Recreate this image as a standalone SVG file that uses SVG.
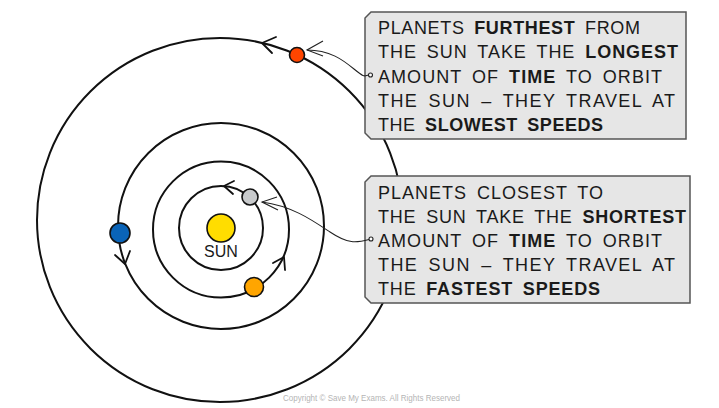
<svg xmlns="http://www.w3.org/2000/svg" width="719" height="408" viewBox="0 0 719 408">
<style>
.orbit{fill:none;stroke:#111;stroke-width:2}
.chev{fill:none;stroke:#111;stroke-width:1.8;stroke-linecap:round;stroke-linejoin:round}
.planet{stroke:#111;stroke-width:1.6}
.box{fill:#e6e6e6;stroke:#555;stroke-width:1.5}
.t{font-family:"Liberation Sans",Arial,sans-serif;font-size:18px;fill:#1a1a1a;word-spacing:4px}
.b{font-weight:bold}
.ptr{fill:none;stroke:#222;stroke-width:1.1}
.dot{fill:#fff;stroke:#222;stroke-width:1.1}
</style>
<rect width="719" height="408" fill="#fff"/>
<g id="orbits">
<ellipse id="orbit4" class="orbit" cx="220" cy="220" rx="183" ry="182"/>
<circle id="orbit3" class="orbit" cx="221" cy="226" r="103"/>
<circle id="orbit2" class="orbit" cx="221" cy="229.5" r="68"/>
<circle id="orbit1" class="orbit" cx="221" cy="228" r="42"/>
<polyline class="chev" points="276,37 262,43 272,53"/>
<polyline class="chev" points="234,181 224,186 233,194"/>
<polyline class="chev" points="115,255 125,264 130,251"/>
<polyline class="chev" points="273,263 284,257 285,270"/>
</g>
<g id="sun">
<circle cx="221" cy="228" r="14" fill="#ffdd00" class="planet"/>
<text x="221" y="257" text-anchor="middle" font-family="'Liberation Sans',Arial,sans-serif" font-size="16" fill="#1a1a1a">SUN</text>
</g>
<g id="planet-gray"><circle cx="250" cy="197" r="8" fill="#c8cacc" class="planet"/></g>
<g id="planet-orange"><circle cx="254" cy="287" r="9.5" fill="#ffa500" class="planet"/></g>
<g id="planet-blue"><circle cx="120" cy="233" r="10" fill="#0a64b8" class="planet"/></g>
<g id="planet-red"><circle cx="297" cy="55" r="7.5" fill="#ff4500" class="planet"/></g>
<g id="box-far">
<path class="box" d="M371,12 H686 V139 H371 L365,133 V18 Z"/>
<text class="t" x="378" y="34" textLength="262" lengthAdjust="spacing">PLANETS <tspan class="b">FURTHEST</tspan> FROM</text>
<text class="t" x="378" y="58" textLength="300" lengthAdjust="spacing">THE SUN TAKE THE <tspan class="b">LONGEST</tspan></text>
<text class="t" x="378" y="83" textLength="284" lengthAdjust="spacing">AMOUNT OF <tspan class="b">TIME</tspan> TO ORBIT</text>
<text class="t" x="378" y="107" textLength="297" lengthAdjust="spacing">THE SUN – THEY TRAVEL AT</text>
<text class="t" x="378" y="131" textLength="225" lengthAdjust="spacing">THE <tspan class="b">SLOWEST SPEEDS</tspan></text>
</g>
<g id="box-near">
<path class="box" d="M371,176 H690 V303 H371 L365,297 V182 Z"/>
<text class="t" x="378" y="199" textLength="225" lengthAdjust="spacing">PLANETS CLOSEST TO</text>
<text class="t" x="378" y="223" textLength="308" lengthAdjust="spacing">THE SUN TAKE THE <tspan class="b">SHORTEST</tspan></text>
<text class="t" x="378" y="247" textLength="284" lengthAdjust="spacing">AMOUNT OF <tspan class="b">TIME</tspan> TO ORBIT</text>
<text class="t" x="378" y="271" textLength="297" lengthAdjust="spacing">THE SUN – THEY TRAVEL AT</text>
<text class="t" x="378" y="295" textLength="222" lengthAdjust="spacing">THE <tspan class="b">FASTEST SPEEDS</tspan></text>
</g>
<g id="connectors">
<path class="ptr" d="M307,50 C330,50 343,60 354,69 S364,76 368.5,75"/>
<polyline class="ptr" points="323,41 307,50 323,56"/>
<circle class="dot" cx="370.5" cy="75" r="2"/>
<path class="ptr" d="M262,202 C292,206 312,220 330,232 S356,243 369,239.5"/>
<polyline class="ptr" points="277,197 262,202 278,210"/>
<circle class="dot" cx="371" cy="239" r="2"/>
</g>
<text x="283" y="401" textLength="177" lengthAdjust="spacingAndGlyphs" font-family="'Liberation Sans',Arial,sans-serif" font-size="9" fill="#b5b5b5">Copyright © Save My Exams. All Rights Reserved</text>
</svg>
